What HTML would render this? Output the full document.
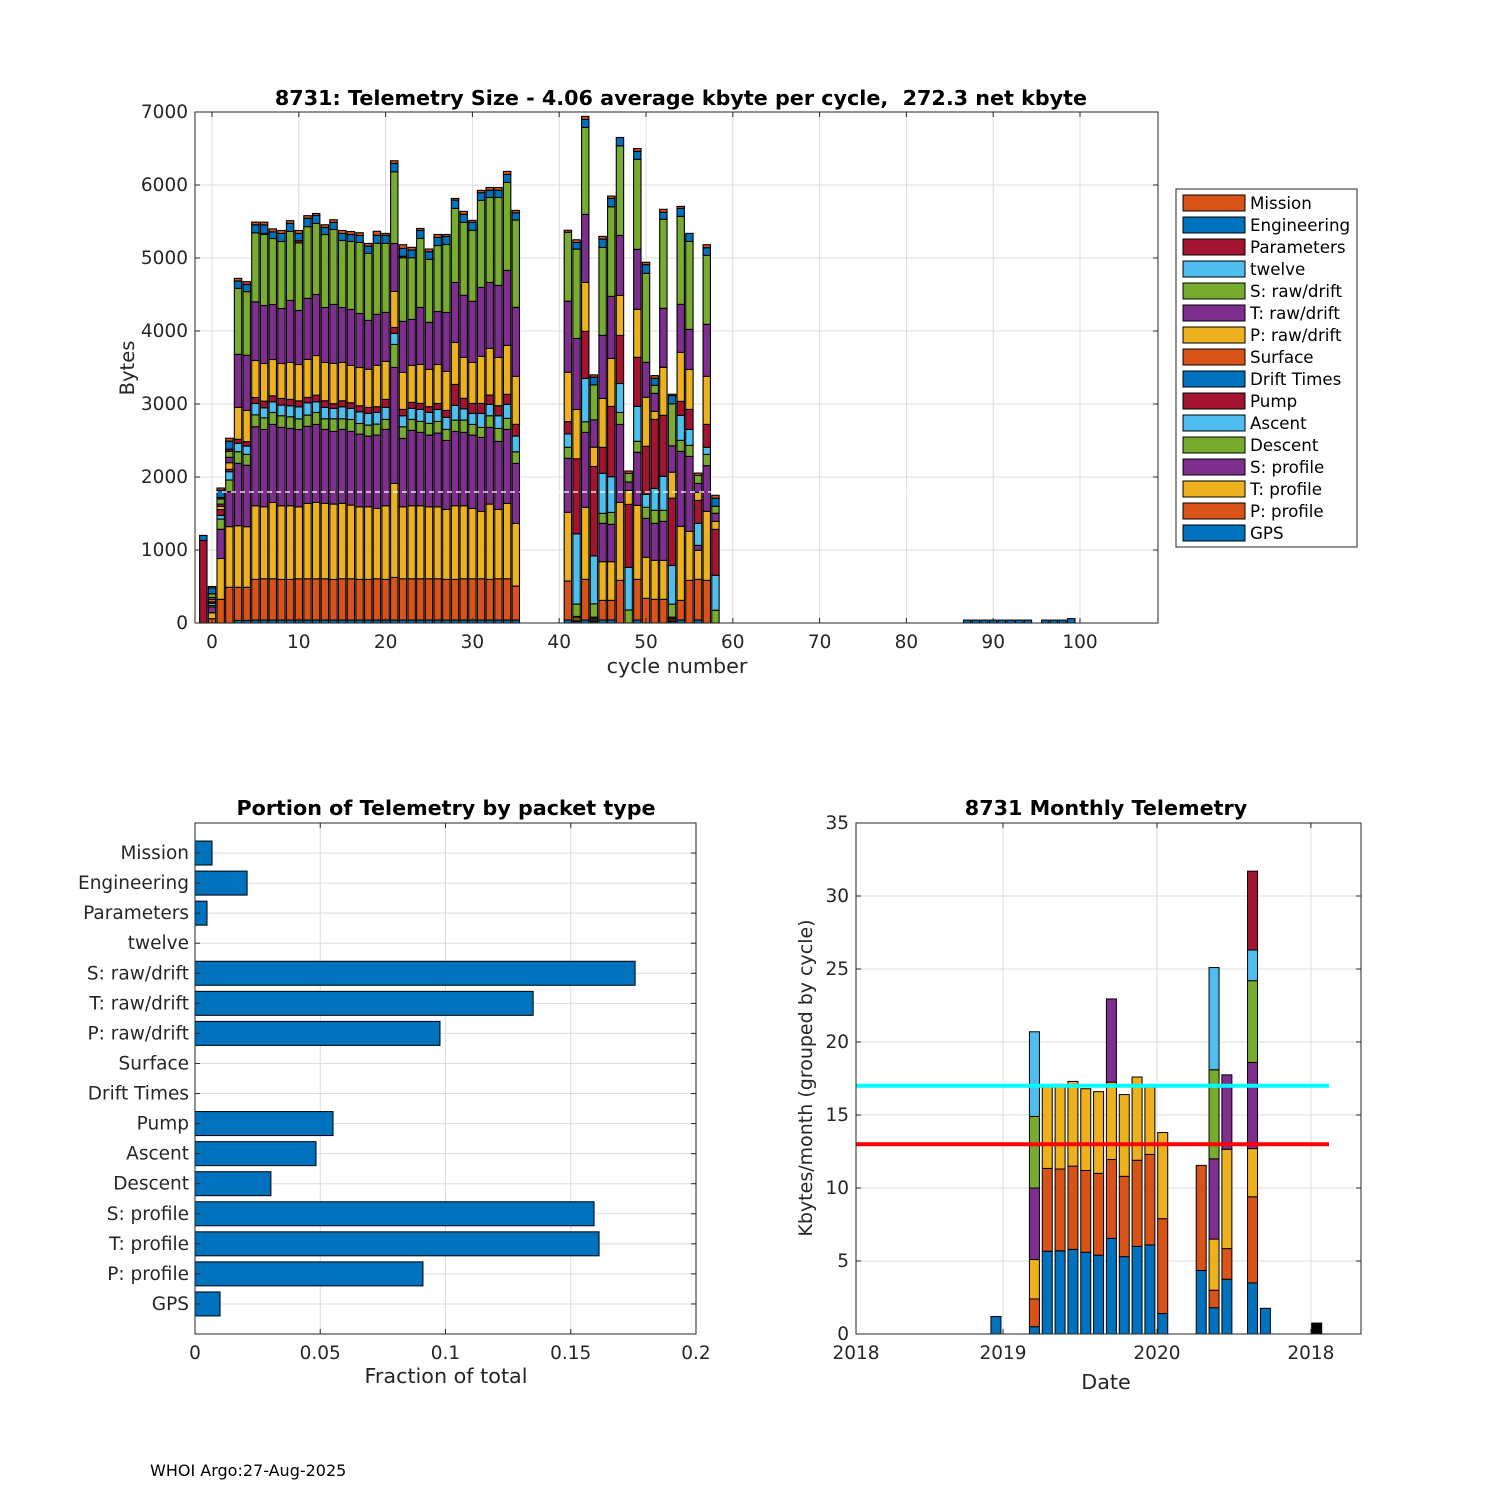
<!DOCTYPE html>
<html><head><meta charset="utf-8"><style>
html,body{margin:0;padding:0;background:#fff;}
svg{display:block;font-family:"DejaVu Sans","Liberation Sans",sans-serif;}
</style></head><body>
<svg id="fig" width="1500" height="1500" viewBox="0 0 1500 1500" xmlns="http://www.w3.org/2000/svg">
<rect width="1500" height="1500" fill="#fff"/>
<g id="top"></g>
<g id="frac"></g>
<g id="mon"></g>
<text x="150" y="1476" font-size="16" fill="#000">WHOI Argo:27-Aug-2025</text>
</svg>
<script>
const cycles=[-1,0,1,2,3,4,5,6,7,8,9,10,11,12,13,14,15,16,17,18,19,20,21,22,23,24,25,26,27,28,29,30,31,32,33,34,35,
41,42,43,44,45,46,47,48,49,50,51,52,53,54,55,56,57,58,87,88,89,90,91,92,93,94,96,97,98,99];
const sGPS=[0,0,0,0,35,35,40,40,40,40,40,40,40,40,40,40,40,40,40,40,40,40,40,40,40,40,40,40,40,40,40,40,40,40,40,40,40,
41,20,41,20,41,41,0,0,41,0,0,0,20,41,0,41,0,0,0,0,0,0,0,0,0,0,0,0,0,0];
const sPprof=[0,60,324,489,454,454,557,566,566,557,557,566,566,566,566,557,566,566,557,557,566,557,584,566,566,566,566,566,557,557,566,566,566,557,566,566,466,
534,20,557,20,269,269,584,0,557,338,324,324,20,269,584,557,584,0,0,0,0,0,0,0,0,0,0,0,0,0];
const sTprof=[0,80,560,831,844,831,1009,986,1046,1009,1009,986,1032,1046,1032,1032,1032,1009,995,995,963,1009,1288,986,1000,1000,986,986,959,1009,1000,963,922,1032,950,1032,858,
941,30,986,20,530,530,1068,0,1014,562,534,534,20,1014,671,397,945,0,0,0,0,0,0,0,0,0,0,0,0,0];
const sSprof=[0,80,400,479,854,840,1082,1059,1068,1073,1059,1059,1055,1068,1014,995,1014,1009,995,968,1005,1046,1589,936,1032,1005,982,1009,945,1018,1005,1005,1014,1050,931,1014,822,
740,20,1027,20,525,511,1068,0,726,534,507,534,20,1027,1027,68,626,0,0,0,0,0,0,0,0,0,0,0,0,0];
const sDescent=[0,20,140,160,160,150,164,160,164,160,160,146,155,164,146,174,146,164,146,151,151,137,315,160,151,151,160,160,151,155,169,146,137,160,178,151,160,
151,169,146,183,137,164,164,178,151,151,178,151,178,151,151,0,155,174,0,0,0,0,0,0,0,0,0,0,0,0];
const sAscent=[0,30,50,114,114,114,155,137,146,146,151,164,169,146,155,142,164,151,160,160,160,164,151,151,151,164,151,164,164,201,155,151,192,155,174,192,215,
183,963,594,657,548,489,397,584,479,178,301,466,530,342,219,301,96,479,0,0,0,0,0,0,0,0,0,0,0,0];
const sPump=[0,20,80,32,55,60,82,91,82,91,87,82,73,91,91,64,82,78,82,82,78,110,82,87,82,82,78,82,96,288,142,137,137,128,137,137,160,
169,1027,644,1224,356,963,658,863,671,658,945,836,922,192,274,315,315,630,0,0,0,0,0,0,0,0,0,0,0,0];
const sDrift=[0,0,0,0,0,0,0,0,0,0,0,0,0,0,0,0,0,0,0,0,0,0,0,0,0,0,0,0,0,0,0,0,0,0,0,0,0,
0,0,0,0,0,0,0,0,0,0,0,0,0,0,0,0,0,0,0,0,0,0,0,0,0,0,0,0,0,0];
const sSurface=[0,0,0,0,0,0,0,0,0,0,0,0,0,0,0,0,0,0,0,0,0,0,0,0,0,0,0,0,0,0,0,0,0,0,0,0,0,
0,0,0,0,0,0,0,0,0,0,0,0,0,0,0,0,0,0,0,0,0,0,0,0,0,0,0,0,0,0];
const sPraw=[0,30,45,91,438,429,507,516,498,479,507,498,521,543,525,552,525,511,525,521,566,521,493,507,507,534,511,534,534,575,562,562,644,639,662,671,658,
676,676,671,265,671,658,548,192,658,671,110,658,356,671,548,110,658,110,0,0,0,0,0,0,0,0,0,0,0,0];
const sTraw=[0,30,30,73,726,754,804,794,753,753,849,740,836,836,753,808,753,767,740,671,699,671,657,699,630,781,644,726,808,822,849,836,945,904,986,1027,945,
973,973,931,374,863,849,822,114,822,479,247,808,361,658,548,123,712,110,0,0,0,0,0,0,0,0,0,0,0,0];
const sSraw=[0,50,70,82,904,872,945,973,904,918,945,927,982,973,1000,1027,918,931,973,918,973,945,982,872,845,945,863,904,931,1014,1000,973,1192,1164,1205,1205,1196,
945,1224,1192,479,1205,1228,1228,119,1233,1219,110,1219,575,1205,1205,110,945,96,0,0,0,0,0,0,0,0,0,0,0,0];
const sTwelve=[0,0,0,0,0,0,0,0,0,0,0,0,0,0,0,0,0,0,0,0,0,0,0,0,0,0,0,0,0,0,0,0,0,0,0,0,0,
0,0,0,0,0,0,0,0,0,0,0,0,0,0,0,0,0,0,0,0,0,0,0,0,0,0,0,0,0,0];
const sParams=[1130,0,20,30,0,0,0,15,0,0,0,30,0,0,0,0,0,0,0,0,0,0,0,20,0,0,0,0,0,0,0,0,0,0,0,0,0,
0,0,0,0,0,0,0,0,0,0,0,0,0,0,0,0,0,0,0,0,0,0,0,0,0,0,0,0,0,0];
const sEng=[70,80,100,110,101,100,110,117,91,110,110,98,114,110,96,96,96,96,96,100,110,110,114,108,105,110,105,110,110,114,110,110,105,100,100,110,100,
0,91,110,105,114,114,114,0,110,119,96,96,114,110,110,0,105,110,40,40,40,40,40,40,40,40,40,40,40,60];
const sMission=[0,20,30,40,36,37,37,37,41,41,37,41,37,27,37,37,41,41,37,37,55,27,37,50,37,27,37,41,27,23,41,27,32,37,37,41,32,
27,37,41,32,37,32,0,32,37,32,37,41,18,27,0,32,41,41,0,0,0,0,0,0,0,0,0,0,0,0];
const legendLabels=["GPS","P: profile","T: profile","S: profile","Descent","Ascent","Pump","Drift Times","Surface","P: raw/drift","T: raw/drift","S: raw/drift","twelve","Parameters","Engineering","Mission"];
const topXTicks=[0,10,20,30,40,50,60,70,80,90,100];
const topYTicks=[0,1000,2000,3000,4000,5000,6000,7000];

const fracCats=["GPS","P: profile","T: profile","S: profile","Descent","Ascent","Pump","Drift Times","Surface","P: raw/drift","T: raw/drift","S: raw/drift","twelve","Parameters","Engineering","Mission"];
const fracVals=[0.0100,0.0910,0.1613,0.1593,0.0303,0.0483,0.0551,0,0,0.0978,0.1350,0.1757,0,0.0048,0.0208,0.0068];
const fracXTicks=[0,0.05,0.1,0.15,0.2];

const monMonths=[11,14,15,16,17,18,19,20,21,22,23,24,27,28,29,31,32,36];
const monBlue=[1.2,0.5,5.67,5.7,5.8,5.6,5.4,6.55,5.3,6.0,6.1,1.4,4.35,1.8,3.75,3.5,1.76,0];
const monOrange=[0,1.9,5.67,5.6,5.7,5.6,5.6,5.4,5.5,5.9,6.2,6.5,7.2,1.2,2.1,5.9,0,0];
const monYellow=[0,2.7,5.67,5.8,5.8,5.6,5.6,5.3,5.6,5.7,4.7,5.9,0,3.5,6.8,3.3,0,0];
const monPurple=[0,4.9,0,0,0,0,0,5.7,0,0,0,0,0,5.5,5.1,5.9,0,0];
const monGreen=[0,4.9,0,0,0,0,0,0,0,0,0,0,0,6.1,0,5.6,0,0];
const monLightBlue=[0,5.8,0,0,0,0,0,0,0,0,0,0,0,7.0,0,2.1,0,0];
const monRed=[0,0,0,0,0,0,0,0,0,0,0,0,0,0,0,5.4,0,0];
const monBlack=[0,0,0,0,0,0,0,0,0,0,0,0,0,0,0,0,0,0.75];
const monYTicks=[0,5,10,15,20,25,30,35];
const monXTickMonths=[0,12,24,36];
const monXTickLabels=["2018","2019","2020","2018"];
const refHigh=17, refLow=13;

const NS="http://www.w3.org/2000/svg";
function mk(parent,tag,attrs){const e=document.createElementNS(NS,tag);for(const k in attrs)e.setAttribute(k,attrs[k]);parent.appendChild(e);return e;}
const AX="#262626", GRID="#dcdcdc";
const TICKF=18.5, TITLEF=20.7, AXTF=20.7;

/* ---------- top chart ---------- */
(function(){
const g=document.getElementById('top');
const L=195,R=1158,T=112,B=623;
const x=c=>212+c*8.68, y=v=>B-v*0.073;
const series=[sGPS,sPprof,sTprof,sSprof,sDescent,sAscent,sPump,sDrift,sSurface,sPraw,sTraw,sSraw,sTwelve,sParams,sEng,sMission];
const colors=["#0072BD","#D95319","#EDB120","#7E2F8E","#77AC30","#4DBEEE","#A2142F","#0072BD","#D95319","#EDB120","#7E2F8E","#77AC30","#4DBEEE","#A2142F","#0072BD","#D95319"];
for(const t of topXTicks){const l=mk(g,'line',{x1:x(t),x2:x(t),y1:T,y2:B,stroke:GRID,'stroke-width':1});

}
for(const t of topYTicks){const l=mk(g,'line',{x1:L,x2:R,y1:y(t),y2:y(t),stroke:GRID,'stroke-width':1});

}
const wBar=0.85*8.68;
cycles.forEach((c,i)=>{let acc=0;
 series.forEach((s,k)=>{const v=s[i];if(!v)return;
  const r=mk(g,'rect',{x:x(c)-wBar/2,y:y(acc+v),width:wBar,height:v*0.073,fill:colors[k],stroke:'#000','stroke-width':1.1});
  
  
  acc+=v;});
});
const dl=mk(g,'line',{x1:L,x2:R,y1:y(1795),y2:y(1795),stroke:'#fff','stroke-width':1.2,'stroke-dasharray':'5,4'});


const box=mk(g,'rect',{x:L,y:T,width:R-L,height:B-T,fill:'none',stroke:AX,'stroke-width':1});


for(const t of topXTicks){mk(g,'line',{x1:x(t),x2:x(t),y1:B,y2:B-5,stroke:AX});mk(g,'line',{x1:x(t),x2:x(t),y1:T,y2:T+5,stroke:AX});
 const tx=mk(g,'text',{x:x(t),y:B+25,'font-size':TICKF,'text-anchor':'middle',fill:AX});tx.textContent=t;
 
 }
for(const t of topYTicks){mk(g,'line',{x1:L,x2:L+5,y1:y(t),y2:y(t),stroke:AX});mk(g,'line',{x1:R,x2:R-5,y1:y(t),y2:y(t),stroke:AX});
 const tx=mk(g,'text',{x:L-7,y:y(t)+6,'font-size':TICKF,'text-anchor':'end',fill:AX});tx.textContent=t;
 
 }
let t1=mk(g,'text',{x:681,y:105,'font-size':TITLEF,'font-weight':'bold','text-anchor':'middle',fill:'#000',style:'white-space:pre'});
t1.textContent="8731: Telemetry Size - 4.06 average kbyte per cycle,  272.3 net kbyte";


let xl=mk(g,'text',{x:677,y:673,'font-size':AXTF,'text-anchor':'middle',fill:AX});xl.textContent="cycle number";


let yl=mk(g,'text',{x:0,y:0,'font-size':19.5,'text-anchor':'middle',fill:AX,transform:'translate(134,368) rotate(-90)'});yl.textContent="Bytes";


const lg=mk(g,'g',{});


mk(lg,'rect',{x:1176,y:189,width:181,height:358,fill:'#fff',stroke:AX,'stroke-width':1});
for(let i=0;i<16;i++){const k=15-i;const cy=203+i*22;
 const sw=mk(lg,'rect',{x:1183,y:cy-8,width:62,height:16,fill:colors[k],stroke:'#000','stroke-width':1});
 
 
 const tx=mk(lg,'text',{x:1250,y:cy+6,'font-size':16.7,fill:'#000'});tx.textContent=legendLabels[k];
 
 }
})();

/* ---------- fraction chart ---------- */
(function(){
const g=document.getElementById('frac');
const L=195,R=696,T=823,B=1334;
const x=v=>L+v*2505, y=k=>B-k*30.06;
for(const t of fracXTicks){const l=mk(g,'line',{x1:x(t),x2:x(t),y1:T,y2:B,stroke:GRID});

}
fracCats.forEach((c,i)=>{const l=mk(g,'line',{x1:L,x2:R,y1:y(i+1),y2:y(i+1),stroke:GRID});

});
fracVals.forEach((v,i)=>{if(!v)return;
 const r=mk(g,'rect',{x:L,y:y(i+1)-12,width:v*2505,height:24,fill:'#0072BD',stroke:'#000','stroke-width':1});
 
 });
const box=mk(g,'rect',{x:L,y:T,width:R-L,height:B-T,fill:'none',stroke:AX});


for(const t of fracXTicks){mk(g,'line',{x1:x(t),x2:x(t),y1:B,y2:B-5,stroke:AX});mk(g,'line',{x1:x(t),x2:x(t),y1:T,y2:T+5,stroke:AX});
 const tx=mk(g,'text',{x:x(t),y:B+25,'font-size':TICKF,'text-anchor':'middle',fill:AX});tx.textContent=String(t);
 
 }
fracCats.forEach((c,i)=>{mk(g,'line',{x1:L,x2:L+5,y1:y(i+1),y2:y(i+1),stroke:AX});mk(g,'line',{x1:R,x2:R-5,y1:y(i+1),y2:y(i+1),stroke:AX});
 const tx=mk(g,'text',{x:L-6,y:y(i+1)+6,'font-size':TICKF,'text-anchor':'end',fill:AX});tx.textContent=c;
 
 });
let t1=mk(g,'text',{x:446,y:815,'font-size':TITLEF,'font-weight':'bold','text-anchor':'middle',fill:'#000'});t1.textContent="Portion of Telemetry by packet type";


let xl=mk(g,'text',{x:446,y:1383,'font-size':AXTF,'text-anchor':'middle',fill:AX});xl.textContent="Fraction of total";


})();

/* ---------- monthly chart ---------- */
(function(){
const g=document.getElementById('mon');
const L=856,R=1361,T=823,B=1334;
const x=m=>1003+(m-12)*12.83, y=v=>B-v*14.6;
for(const t of monXTickMonths){const l=mk(g,'line',{x1:Math.max(L,x(t)),x2:Math.max(L,x(t)),y1:T,y2:B,stroke:GRID});

}
for(const t of monYTicks){const l=mk(g,'line',{x1:L,x2:R,y1:y(t),y2:y(t),stroke:GRID});

}
const ser=[monBlue,monOrange,monYellow,monPurple,monGreen,monLightBlue,monRed,monBlack];
const cols=["#0072BD","#D95319","#EDB120","#7E2F8E","#77AC30","#4DBEEE","#A2142F","#000000"];
monMonths.forEach((m,i)=>{let acc=0;const cx=x(m+0.45);
 ser.forEach((s,k)=>{const v=s[i];if(!v)return;
  const r=mk(g,'rect',{x:cx-5,y:y(acc+v),width:10,height:v*14.6,fill:cols[k],stroke:'#000','stroke-width':1});
  
  
  acc+=v;});});
const lh=mk(g,'line',{x1:L,x2:1329,y1:y(refHigh),y2:y(refHigh),stroke:'#00FFFF','stroke-width':4});


const ll=mk(g,'line',{x1:L,x2:1329,y1:y(refLow),y2:y(refLow),stroke:'#FF0000','stroke-width':4});


const box=mk(g,'rect',{x:L,y:T,width:R-L,height:B-T,fill:'none',stroke:AX});


monXTickMonths.forEach((t,i)=>{const px=Math.max(L,x(t));mk(g,'line',{x1:px,x2:px,y1:B,y2:B-5,stroke:AX});mk(g,'line',{x1:px,x2:px,y1:T,y2:T+5,stroke:AX});
 const tx=mk(g,'text',{x:px,y:B+25,'font-size':TICKF,'text-anchor':'middle',fill:AX});tx.textContent=monXTickLabels[i];
 
 });
for(const t of monYTicks){mk(g,'line',{x1:L,x2:L+5,y1:y(t),y2:y(t),stroke:AX});mk(g,'line',{x1:R,x2:R-5,y1:y(t),y2:y(t),stroke:AX});
 const tx=mk(g,'text',{x:L-7,y:y(t)+6,'font-size':TICKF,'text-anchor':'end',fill:AX});tx.textContent=t;
 
 }
let t1=mk(g,'text',{x:1106,y:815,'font-size':TITLEF,'font-weight':'bold','text-anchor':'middle',fill:'#000'});t1.textContent="8731 Monthly Telemetry";


let xl=mk(g,'text',{x:1106,y:1389,'font-size':AXTF,'text-anchor':'middle',fill:AX});xl.textContent="Date";


let yl=mk(g,'text',{x:0,y:0,'font-size':19,'text-anchor':'middle',fill:AX,transform:'translate(812,1078) rotate(-90)'});yl.textContent="Kbytes/month (grouped by cycle)";


})();
</script>
</body></html>
